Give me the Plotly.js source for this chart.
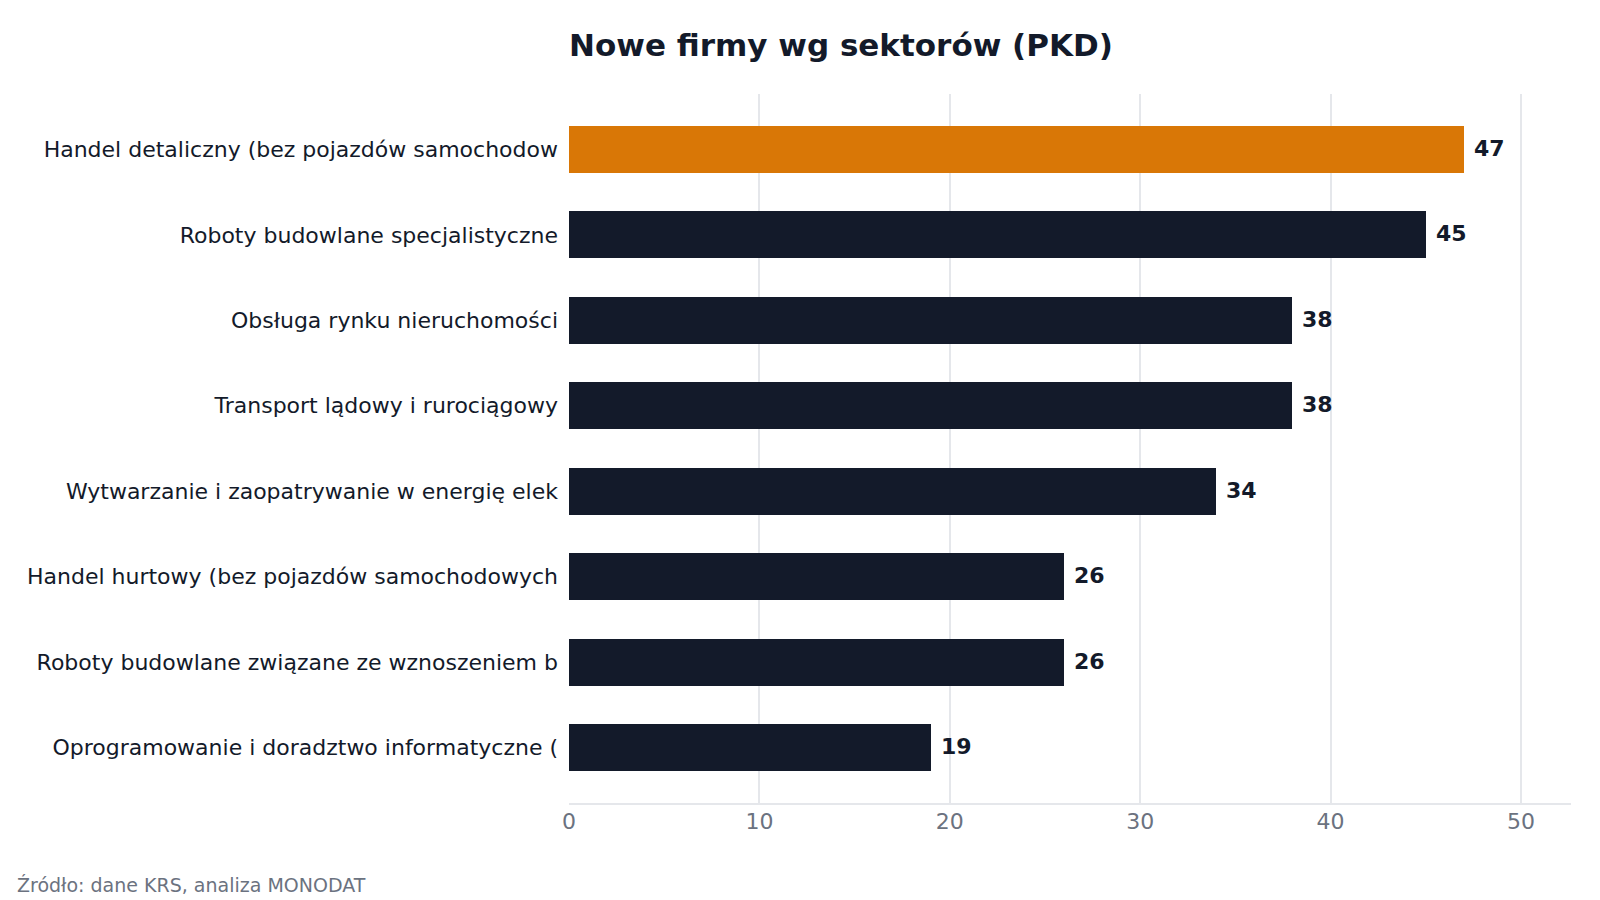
<!DOCTYPE html>
<html>
<head>
<meta charset="utf-8">
<script src="https://cdn.plot.ly/plotly-3.0.1.min.js"></script>
<style>
  html, body { margin: 0; padding: 0; background: #ffffff; }
  #chart { width: 1600px; height: 900px; }
</style>
</head>
<body>
<div id="chart"></div>
<script>
// sectors, top to bottom as drawn
var sectors = [
    'Handel detaliczny (bez pojazdów samochodow',
    'Roboty budowlane specjalistyczne',
    'Obsługa rynku nieruchomości',
    'Transport lądowy i rurociągowy',
    'Wytwarzanie i zaopatrywanie w energię elek',
    'Handel hurtowy (bez pojazdów samochodowych',
    'Roboty budowlane związane ze wznoszeniem b',
    'Oprogramowanie i doradztwo informatyczne ('
];
var counts = [47, 45, 38, 38, 34, 26, 26, 19];
var xTicks = [0, 10, 20, 30, 40, 50];

var navy = '#131a2a';
var orange = '#d97706';
var font = 'DejaVu Sans, sans-serif';

var colors = counts.map(function (v, i) {
    return i === 0 ? orange : navy;
});

var trace = {
    type: 'bar',
    orientation: 'h',
    y: sectors,
    x: counts,
    width: 0.55,
    marker: {color: colors, line: {width: 0}},
    hoverinfo: 'x+y'
};

// value labels next to bar ends
var labels = counts.map(function (v, i) {
    return {
        x: v, y: sectors[i],
        xref: 'x', yref: 'y',
        text: String(v),
        showarrow: false,
        xanchor: 'left',
        yanchor: 'middle',
        xshift: 8,
        yshift: 1,
        font: {family: font, size: 22, color: navy, weight: 'bold'}
    };
});

labels.push({
    xref: 'paper', yref: 'paper',
    x: -0.553, y: -0.1157,
    xanchor: 'left', yanchor: 'middle',
    text: 'Źródło: dane KRS, analiza MONODAT',
    showarrow: false,
    font: {family: font, size: 19, color: '#6b7280'}
});

var layout = {
    width: 1600,
    height: 900,
    paper_bgcolor: '#ffffff',
    plot_bgcolor: '#ffffff',
    margin: {l: 569, r: 29, t: 94, b: 97, pad: 0},
    showlegend: false,
    bargap: 0,
    title: {
        text: '<b>Nowe firmy wg sektorów (PKD)</b>',
        x: 569 / 1600, xanchor: 'left', xref: 'container',
        y: 1 - 45 / 900, yanchor: 'middle', yref: 'container',
        font: {family: font, size: 31, color: navy}
    },
    xaxis: {
        range: [0, 52.63],
        tickvals: xTicks,
        ticktext: xTicks.map(String),
        showgrid: true,
        gridcolor: '#e5e7eb',
        gridwidth: 2,
        zeroline: false,
        showline: true,
        linecolor: '#e5e7eb',
        linewidth: 2,
        ticks: '',
        ticklabelstandoff: -2,
        tickfont: {family: font, size: 22, color: '#6b7280'},
        fixedrange: true
    },
    yaxis: {
        type: 'category',
        categoryorder: 'array',
        categoryarray: sectors,
        range: [7.65, -0.65],
        showgrid: false,
        zeroline: false,
        showline: false,
        ticks: '',
        ticklabelstandoff: 10,
        tickfont: {family: font, size: 22, color: navy},
        fixedrange: true
    },
    annotations: labels
};

Plotly.newPlot('chart', [trace], layout, {displayModeBar: false, staticPlot: true});
</script>
</body>
</html>
